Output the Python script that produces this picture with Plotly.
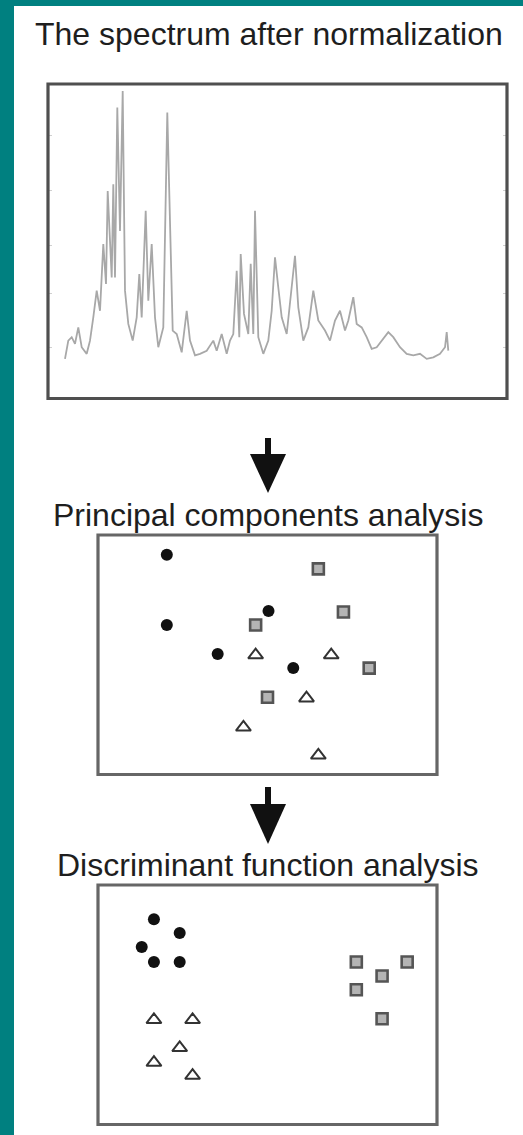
import plotly.graph_objects as go

W, H = 523, 1135

# --- normalised spectrum (channel index, normalised intensity) ---
spec_x = [18, 21.3, 24.7, 28, 31.3, 34.7, 39.7, 43, 46.3, 49.7, 53, 56.3, 59, 60.7,
          64.7, 66.3, 68, 70.3, 73, 75.7, 78, 81.3, 85.7, 89.7, 92.3, 94.7, 98.7,
          101.3, 104.7, 108, 111.3, 116.3, 120.3, 123, 125.7, 129.7, 134.7, 139.7,
          143, 148, 153, 159.7, 166.3, 169.7, 174.7, 179.7, 183, 186.3, 189.7, 192.3,
          193.7, 197, 201.3, 203.7, 206.3, 208, 211.3, 216.3, 221.3, 224.7, 228,
          231.3, 234.7, 239.7, 243, 248, 251.3, 256.3, 261.3, 266.3, 271.3, 278, 283,
          288, 293, 298, 301.3, 306.3, 309.7, 314.7, 319.7, 324.7, 329.7, 334.7,
          341.3, 346.3, 353, 359.7, 366.3, 373, 379.7, 386.3, 393, 398, 399.7, 401.3]
spec_y = [0.126, 0.184, 0.195, 0.174, 0.226, 0.163, 0.142, 0.184, 0.258, 0.343, 0.279,
          0.491, 0.364, 0.660, 0.385, 0.681, 0.385, 0.925, 0.533, 0.978, 0.343, 0.237,
          0.184, 0.258, 0.396, 0.258, 0.597, 0.311, 0.491, 0.258, 0.163, 0.226, 0.909,
          0.576, 0.216, 0.205, 0.147, 0.279, 0.184, 0.137, 0.142, 0.152, 0.184, 0.152,
          0.205, 0.142, 0.184, 0.205, 0.406, 0.195, 0.459, 0.269, 0.205, 0.428, 0.205,
          0.597, 0.195, 0.142, 0.184, 0.279, 0.449, 0.353, 0.258, 0.205, 0.301, 0.454,
          0.290, 0.184, 0.226, 0.343, 0.248, 0.216, 0.184, 0.248, 0.279, 0.216, 0.248,
          0.322, 0.237, 0.226, 0.195, 0.158, 0.163, 0.184, 0.211, 0.195, 0.163, 0.142,
          0.137, 0.142, 0.126, 0.131, 0.142, 0.163, 0.211, 0.152]
spec_ticks = [0.162, 0.333, 0.486, 0.660, 0.835]

# --- principal component scores, three groups ---
pca_circle_x = [2.03, 5.03, 2.03, 3.53, 5.76]
pca_circle_y = [6.42, 4.78, 4.37, 3.52, 3.11]
pca_square_x = [6.50, 7.24, 4.65, 8.00, 5.00]
pca_square_y = [6.01, 4.75, 4.37, 3.11, 2.26]
pca_tri_x = [4.65, 6.88, 6.15, 4.29, 6.50]
pca_tri_y = [3.49, 3.49, 2.23, 1.38, 0.56]

# --- discriminant function scores, three groups ---
dfa_circle_x = [1.65, 2.41, 1.29, 1.65, 2.41]
dfa_circle_y = [6.00, 5.60, 5.19, 4.75, 4.75]
dfa_square_x = [7.62, 9.12, 8.38, 7.62, 8.38]
dfa_square_y = [4.75, 4.75, 4.34, 3.94, 3.09]
dfa_tri_x = [1.65, 2.79, 2.41, 1.65, 2.79]
dfa_tri_y = [3.06, 3.06, 2.24, 1.81, 1.43]

titles = ["The spectrum after normalization",
          "Principal components analysis",
          "Discriminant function analysis"]


def px(x):
    return x / W


def py(y):
    return 1 - y / H


circle_style = dict(symbol="circle", size=12, color="#111111",
                    line=dict(width=0))
square_style = dict(symbol="square", size=11, color="#b4b4b4",
                    line=dict(width=2.6, color="#555555"))
tri_style = dict(symbol="triangle-up-open", size=13, color="#333333",
                 line=dict(width=2, color="#333333"))

fig = go.Figure()

fig.add_trace(go.Scatter(x=spec_x, y=spec_y, mode="lines", xaxis="x", yaxis="y",
                         line=dict(color="#a8a8a8", width=1.8), showlegend=False,
                         hoverinfo="skip"))

for xa, ya, cx, cy, sx, sy, tx, ty in [
        ("x2", "y2", pca_circle_x, pca_circle_y, pca_square_x, pca_square_y, pca_tri_x, pca_tri_y),
        ("x3", "y3", dfa_circle_x, dfa_circle_y, dfa_square_x, dfa_square_y, dfa_tri_x, dfa_tri_y)]:
    fig.add_trace(go.Scatter(x=cx, y=cy, mode="markers", xaxis=xa, yaxis=ya,
                             marker=circle_style, showlegend=False))
    fig.add_trace(go.Scatter(x=sx, y=sy, mode="markers", xaxis=xa, yaxis=ya,
                             marker=square_style, showlegend=False))
    fig.add_trace(go.Scatter(x=tx, y=ty, mode="markers", xaxis=xa, yaxis=ya,
                             marker=tri_style, showlegend=False))

hidden = dict(showgrid=False, zeroline=False, showticklabels=False, showline=False,
              ticks="", fixedrange=True)

fig.update_layout(
    width=W, height=H,
    margin=dict(l=0, r=0, t=0, b=0),
    paper_bgcolor="white", plot_bgcolor="white",
    xaxis=dict(domain=[px(48), px(507)], range=[1, 460], anchor="y", **hidden),
    yaxis=dict(domain=[py(398.5), py(84)], range=[0, 1], anchor="x",
               showgrid=False, zeroline=False, showticklabels=False, showline=False,
               ticks="inside", ticklen=4, tickwidth=1, tickcolor="#d0d0d0",
               tickvals=spec_ticks, mirror="ticks", fixedrange=True),
    xaxis2=dict(domain=[px(98), px(437)], range=[0, 10], anchor="y2", **hidden),
    yaxis2=dict(domain=[py(774.5), py(535)], range=[0, 7], anchor="x2", **hidden),
    xaxis3=dict(domain=[px(98), px(437)], range=[0, 10], anchor="y3", **hidden),
    yaxis3=dict(domain=[py(1124.5), py(885)], range=[0, 7], anchor="x3", **hidden),
)

shapes = []
# teal frame along the left and top edges
shapes.append(dict(type="rect", xref="paper", yref="paper", x0=0, x1=px(14), y0=0, y1=1,
                   fillcolor="#008080", line=dict(width=0), layer="below"))
shapes.append(dict(type="rect", xref="paper", yref="paper", x0=0, x1=1, y0=py(6), y1=1,
                   fillcolor="#008080", line=dict(width=0), layer="below"))

# panel frames
for xa, ya, col in [("x", "y", "#4f4f4f"), ("x2", "y2", "#666666"), ("x3", "y3", "#666666")]:
    shapes.append(dict(type="rect", xref=f"{xa} domain", yref=f"{ya} domain",
                       x0=0, x1=1, y0=0, y1=1, line=dict(color=col, width=3.2),
                       layer="above"))

# downward arrows between panels
for top, head, tip in [(438, 454, 493), (787, 804, 844)]:
    shapes.append(dict(type="rect", xref="paper", yref="paper",
                       x0=px(265), x1=px(271), y0=py(head + 2), y1=py(top),
                       fillcolor="#111111", line=dict(width=0)))
    path = (f"M {px(250)} {py(head)} L {px(286)} {py(head)} "
            f"L {px(268)} {py(tip)} Z")
    shapes.append(dict(type="path", xref="paper", yref="paper", path=path,
                       fillcolor="#111111", line=dict(width=0)))

fig.update_layout(shapes=shapes)

for text, cx, cy in zip(titles, [269, 268, 268], [34, 515, 865]):
    fig.add_annotation(text=text, xref="paper", yref="paper", x=px(cx), y=py(cy),
                       xanchor="center", yanchor="middle", showarrow=False,
                       font=dict(family="Arial, Liberation Sans, sans-serif",
                                 size=32, color="#1e1e1e"))

fig.write_html("out.html", config={"displayModeBar": False})
